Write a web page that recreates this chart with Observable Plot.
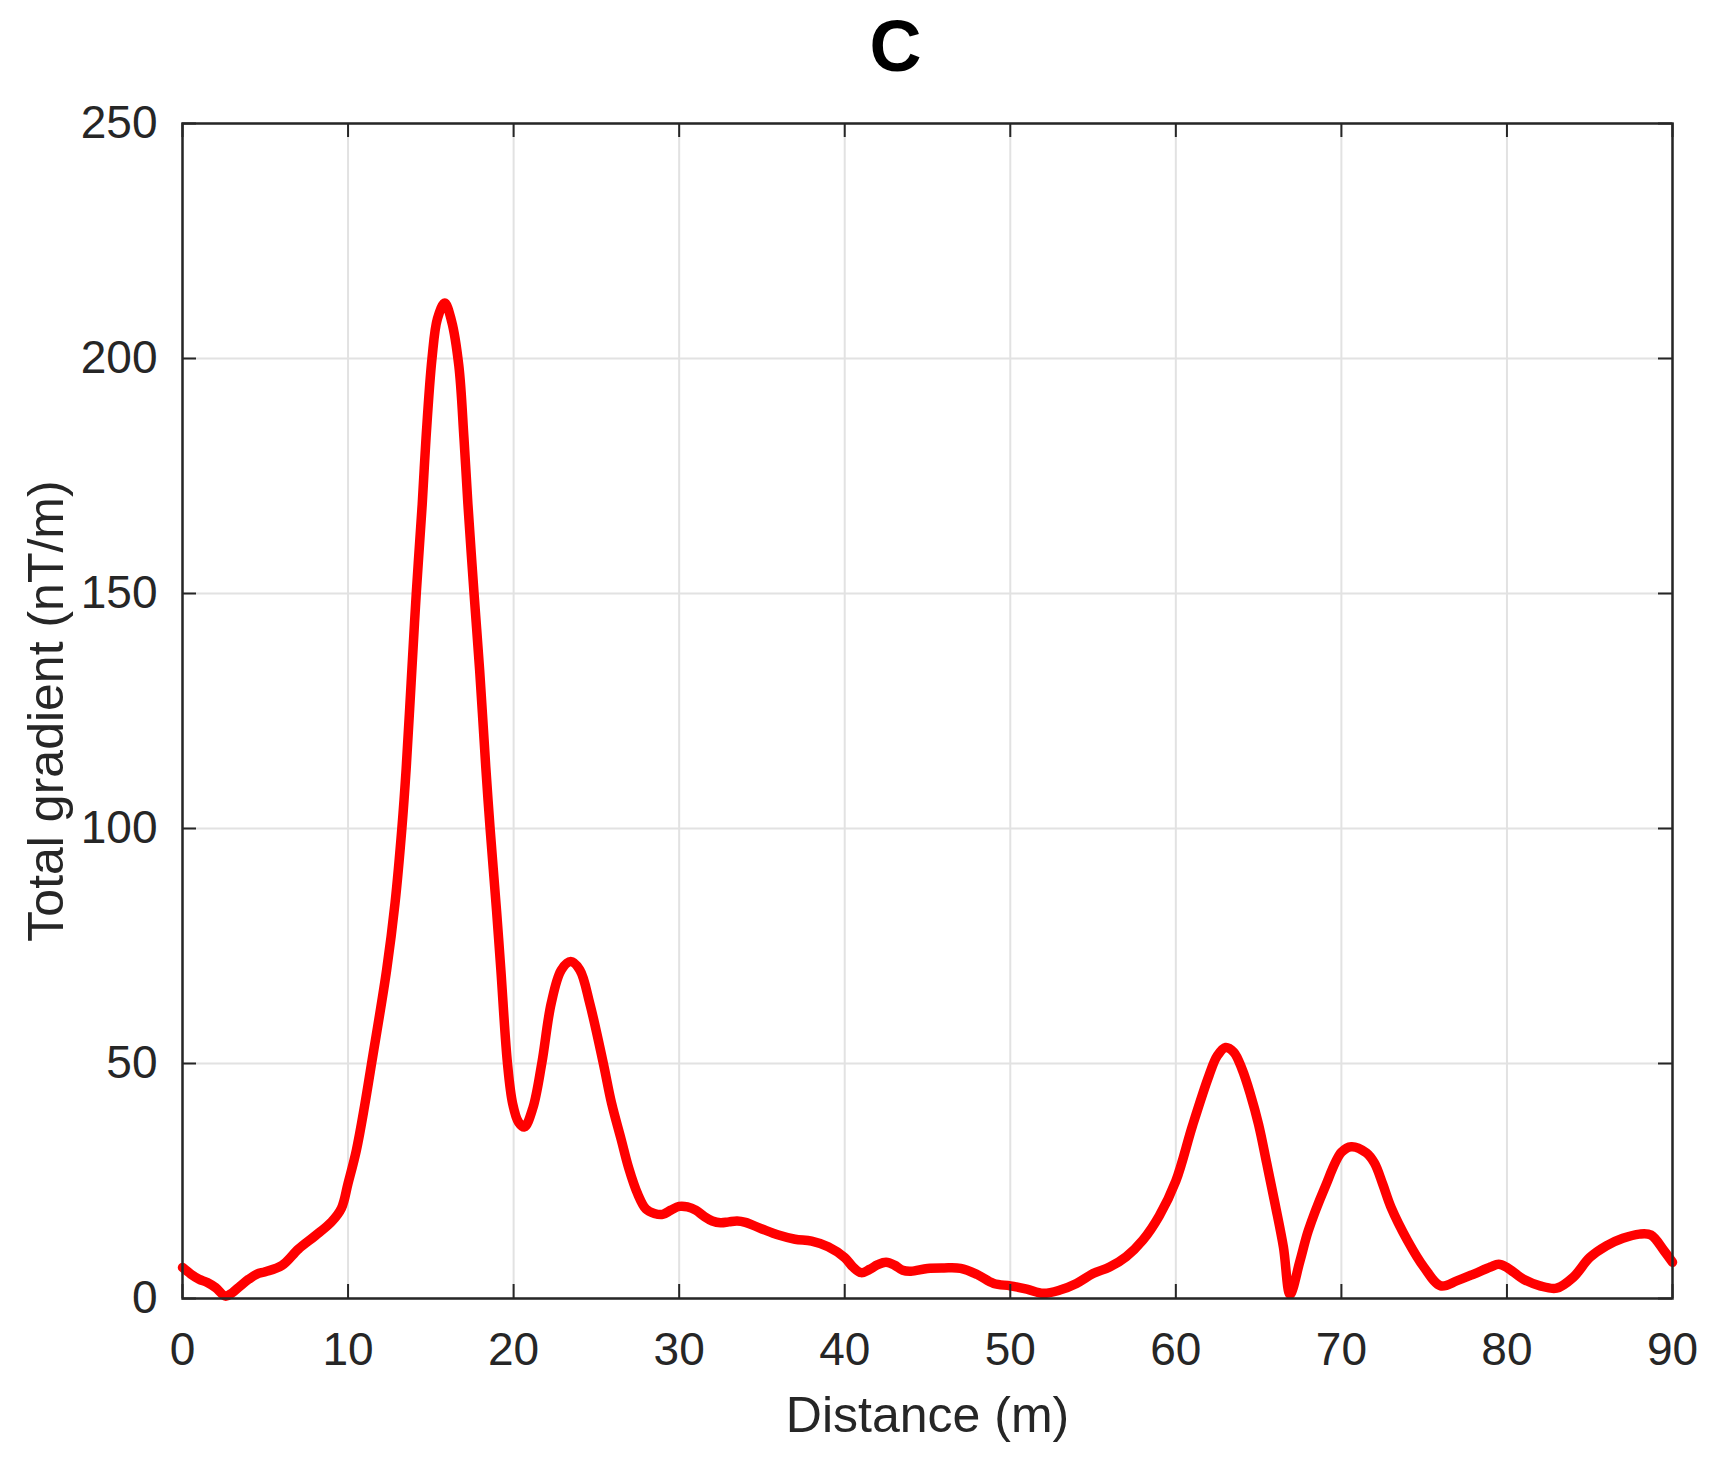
<!DOCTYPE html>
<html>
<head>
<meta charset="utf-8">
<script src="https://cdn.jsdelivr.net/npm/d3@7"></script>
<script src="https://cdn.jsdelivr.net/npm/@observablehq/plot@0.6"></script>
<style>
  html, body { margin: 0; padding: 0; background: #ffffff; }
</style>
</head>
<body>
<div id="chart"></div>
<script>
// Distance along profile (m)
const distance = [
  0, 0.5, 1, 1.5, 2, 2.6, 3, 3.5, 4, 4.5, 5, 6, 7, 8, 9, 9.6, 10, 10.5, 11, 11.42,
  12.33, 12.84, 13.25, 13.51, 13.81, 14.12, 14.48, 14.71, 15.07, 15.4, 15.84, 16.25, 16.69, 17.0, 17.24, 17.61,
  17.95, 18.32, 18.58, 18.97, 19.23, 19.63, 19.94, 20.3, 20.65, 21.16, 21.7, 22.27, 22.88,
  23.45, 24.0, 24.6, 25.42, 25.92, 26.5, 26.94, 27.5, 28, 28.5, 29, 29.5, 30, 30.5, 31, 31.5,
  32, 32.5, 33, 33.5, 34, 35, 36, 37, 38, 39, 40, 40.5, 41, 41.5, 42, 42.5, 43, 43.5, 44,
  45, 46, 47, 48, 49, 50, 51, 52, 53, 54, 55, 56, 57, 58, 59, 60, 61, 62, 62.5, 63, 63.5, 64,
  64.5, 65, 65.5, 66, 66.5, 66.9, 67.5, 68, 69, 70, 70.6, 71.5, 72, 72.5, 73, 74, 75, 76, 77, 78, 79, 79.5,
  80, 81, 82, 83, 84, 85, 86, 87, 88, 88.7, 89.5, 90
];
// Total gradient (nT/m)
const gradient = [
  6.6, 5.2, 4.1, 3.4, 2.3, 0.5, 1.2, 2.7, 4.1, 5.2, 5.7, 7.0, 10.5, 13.3, 16.3, 19.2, 24.5, 31.5, 41, 50,
  69.9, 84.2, 100, 112.7, 131, 150, 169, 183.1, 200, 208.5, 211.8, 208, 198.5, 183.1, 169, 150,
  133.6, 113, 100, 82.5, 69.9, 50, 41.5, 37.5, 36.5, 40.5, 50, 62.8, 69.9,
  71.7, 69.9, 62.8, 50, 41.5, 33.8, 27.9, 22.2, 19, 18.1, 17.9, 18.8, 19.6, 19.5, 18.8, 17.5,
  16.5, 16.1, 16.3, 16.5, 16.2, 14.8, 13.5, 12.6, 12.2, 11.0, 8.7, 6.7, 5.5, 6.2, 7.2, 7.7, 7.1, 6.0, 5.8,
  6.4, 6.5, 6.4, 5.1, 3.2, 2.7, 2.0, 1.1, 1.8, 3.2, 5.3, 6.7, 8.9, 12.4, 17.6, 25, 36.7, 47.4, 51.6, 53.4, 52.4, 48.8,
  43.5, 37, 28.6, 20, 10.9, 0.9, 8, 14.4, 23.6, 31.1, 32.3, 31, 28.8, 24.3, 19.4, 12.3, 6.6, 2.7, 3.8, 5.2, 6.7, 7.3,
  6.6, 4.1, 2.7, 2.2, 4.5, 8.7, 11.2, 12.8, 13.7, 13.5, 10.1, 7.7
];
const xTicks = [0, 10, 20, 30, 40, 50, 60, 70, 80, 90];
const yTicks = [0, 50, 100, 150, 200, 250];
const xDomain = [0, 90];
const yDomain = [0, 250];
const titleText = "C";
const xLabel = "Distance (m)";
const yLabel = "Total gradient (nT/m)";

const rows = distance.map((d, i) => ({d, g: gradient[i]}));

const W = 1710, H = 1458;
const mL = 182, mR = 38, mT = 123, mB = 160;
const frameW = W - mL - mR, frameH = H - mT - mB;
const tickLen = 14;
const axisColor = "#262626";
const gridColor = "#e2e2e2";

const chart = Plot.plot({
  width: W,
  height: H,
  marginLeft: mL,
  marginRight: mR,
  marginTop: mT,
  marginBottom: mB,
  style: {
    fontFamily: "'Liberation Sans', Arial, Helvetica, sans-serif",
    background: "#ffffff",
    color: axisColor,
    maxWidth: "none"
  },
  x: {domain: xDomain, ticks: xTicks},
  y: {domain: yDomain, ticks: yTicks},
  marks: [
    Plot.gridX(xTicks, {stroke: gridColor, strokeOpacity: 1, strokeWidth: 2}),
    Plot.gridY(yTicks, {stroke: gridColor, strokeOpacity: 1, strokeWidth: 2}),
    Plot.line(rows, {
      x: "d", y: "g",
      stroke: "#ff0000", strokeWidth: 9.5,
      curve: "catmull-rom",
      strokeLinejoin: "round", strokeLinecap: "round"
    }),
    // inward ticks on all four sides (MATLAB box style)
    Plot.tickX(xTicks, {x: d => d, insetTop: frameH - tickLen, stroke: axisColor, strokeWidth: 2}),
    Plot.tickX(xTicks, {x: d => d, insetBottom: frameH - tickLen, stroke: axisColor, strokeWidth: 2}),
    Plot.tickY(yTicks, {y: d => d, insetRight: frameW - tickLen, stroke: axisColor, strokeWidth: 2}),
    Plot.tickY(yTicks, {y: d => d, insetLeft: frameW - tickLen, stroke: axisColor, strokeWidth: 2}),
    Plot.frame({stroke: axisColor, strokeWidth: 2.5}),
    Plot.axisX(xTicks, {tickSize: 0, tickPadding: 34, fontSize: 46, label: null, fill: axisColor}),
    Plot.axisY(yTicks, {tickSize: 0, tickPadding: 25, fontSize: 46, label: null, fill: axisColor}),
    Plot.text([xLabel], {
      text: d => d, frameAnchor: "bottom", dy: 117,
      textAnchor: "middle", lineAnchor: "middle",
      fontSize: 50, fill: axisColor
    }),
    Plot.text([yLabel], {
      text: d => d, frameAnchor: "left", dx: -136, rotate: -90,
      textAnchor: "middle", lineAnchor: "middle",
      fontSize: 50, fill: axisColor
    }),
    Plot.text([titleText], {
      text: d => d, frameAnchor: "top", dy: -76, dx: -32,
      textAnchor: "middle", lineAnchor: "middle",
      fontSize: 72, fontWeight: "bold", fill: "#000000"
    })
  ]
});

document.getElementById("chart").appendChild(chart);
</script>
</body>
</html>
